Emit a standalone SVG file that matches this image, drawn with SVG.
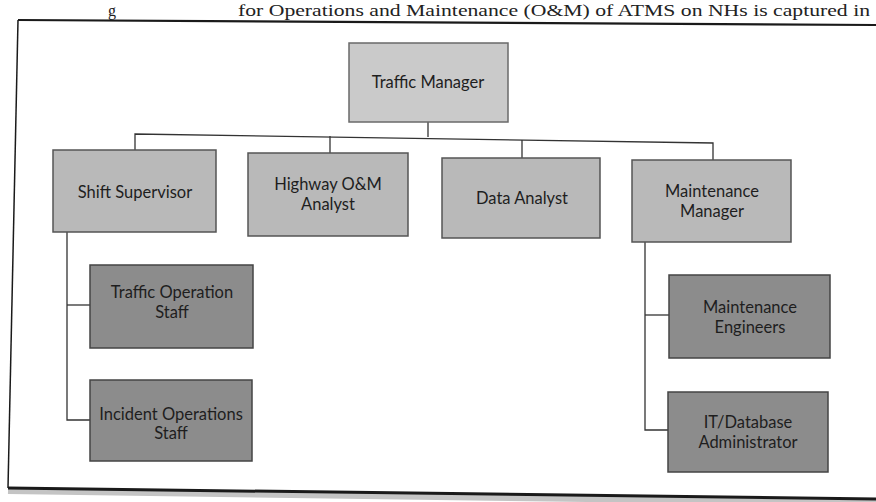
<svg xmlns="http://www.w3.org/2000/svg" width="876" height="502" viewBox="0 0 876 502">
<style>
.pg{fill:#ffffff}
.frame{stroke:#1a1a1a;fill:none}
.top{fill:#cacaca;stroke:#6a6a6a;stroke-width:1.5}
.mid{fill:#b9b9b9;stroke:#555;stroke-width:1.5}
.low{fill:#8c8c8c;stroke:#444;stroke-width:1.5}
.lbl{font-family:Lato,"Liberation Sans",sans-serif;font-size:16.5px;fill:#1e1e1e;text-anchor:middle}
.cap{font-family:"Liberation Serif",serif;font-size:16px;fill:#222}
.ln{stroke:#333;stroke-width:1.3;fill:none}
</style>
<rect class="pg" x="0" y="0" width="876" height="502"/>
<text class="cap" x="108" y="16">g</text>
<text class="cap" x="238" y="16" textLength="632" lengthAdjust="spacingAndGlyphs">for Operations and Maintenance (O&amp;M) of ATMS on NHs is captured in</text>
<g id="frame">
<path class="frame" d="M18 20 L876 25" stroke-width="2.2"/>
<path class="frame" d="M18 20 L8 488" stroke-width="1.5"/>
<path d="M8 491 L876 503" stroke="#c4c4c4" stroke-width="6" fill="none"/>
<path class="frame" d="M8 488 L876 499" stroke-width="3"/>
</g>
<g id="connectors">
<path class="ln" d="M428 122 V137"/>
<path class="ln" d="M135 150 V134 L713 143 V160"/>
<path class="ln" d="M330 153 V136"/>
<path class="ln" d="M522 158 V140"/>
<path class="ln" d="M67 232 V420 H90"/>
<path class="ln" d="M67 305 H90"/>
<path class="ln" d="M645 242 V430 H668"/>
<path class="ln" d="M645 315 H669"/>
</g>
<g id="traffic-manager">
<rect class="top" x="349" y="43" width="159" height="79"/>
<text class="lbl" x="428" y="88">Traffic Manager</text>
</g>
<g id="shift-supervisor">
<rect class="mid" x="53" y="150" width="163" height="82"/>
<text class="lbl" x="135" y="198">Shift Supervisor</text>
</g>
<g id="highway-analyst">
<rect class="mid" x="248" y="153" width="160" height="83"/>
<text class="lbl" x="328" y="190">Highway O&amp;M</text>
<text class="lbl" x="328" y="210">Analyst</text>
</g>
<g id="data-analyst">
<rect class="mid" x="442" y="158" width="158" height="80"/>
<text class="lbl" x="522" y="204">Data Analyst</text>
</g>
<g id="maintenance-manager">
<rect class="mid" x="632" y="160" width="159" height="82"/>
<text class="lbl" x="712" y="197">Maintenance</text>
<text class="lbl" x="712" y="217">Manager</text>
</g>
<g id="traffic-operation-staff">
<rect class="low" x="90" y="265" width="163" height="83"/>
<text class="lbl" x="172" y="298">Traffic Operation</text>
<text class="lbl" x="172" y="318">Staff</text>
</g>
<g id="incident-operations-staff">
<rect class="low" x="90" y="380" width="162" height="81"/>
<text class="lbl" x="171" y="420">Incident Operations</text>
<text class="lbl" x="171" y="439">Staff</text>
</g>
<g id="maintenance-engineers">
<rect class="low" x="669" y="275" width="161" height="83"/>
<text class="lbl" x="750" y="313">Maintenance</text>
<text class="lbl" x="750" y="333">Engineers</text>
</g>
<g id="it-database-administrator">
<rect class="low" x="668" y="392" width="160" height="80"/>
<text class="lbl" x="748" y="428">IT/Database</text>
<text class="lbl" x="748" y="448">Administrator</text>
</g>
</svg>
